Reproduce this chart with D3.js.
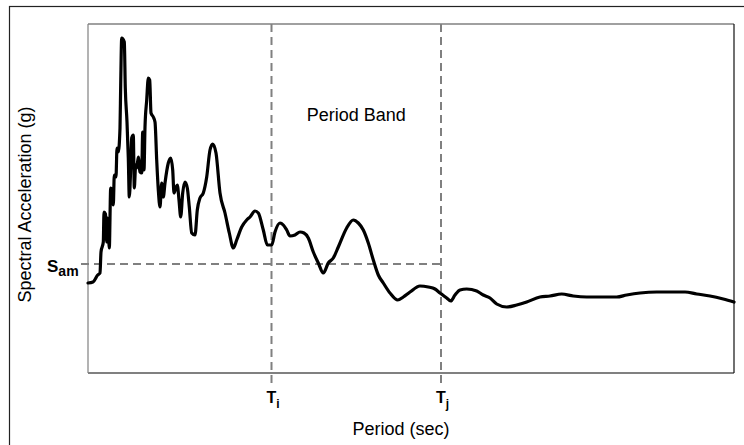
<!DOCTYPE html>
<html>
<head>
<meta charset="utf-8">
<script src="https://cdn.jsdelivr.net/npm/d3@7"></script>
<style>
  body { margin: 0; background: #fff; }
  text { font-family: "Liberation Sans", Arial, sans-serif; fill: #000; }
</style>
</head>
<body>
<div class="chart"></div>
<script>
var svgWidth = 744;
var svgHeight = 445;

// plot area inside the svg
var margin = { top: 24, right: 10, bottom: 72, left: 88 };
var width = svgWidth - margin.left - margin.right;
var height = svgHeight - margin.top - margin.bottom;

// response spectrum (period in sec, Sa in g)
var periods = [0.00, 0.05, 0.097, 0.12, 0.13, 0.153, 0.16, 0.175, 0.187, 0.197,
  0.213, 0.227, 0.243, 0.253, 0.263, 0.28, 0.29, 0.303, 0.32, 0.327,
  0.337, 0.363, 0.373, 0.39, 0.403, 0.413, 0.427, 0.437, 0.453, 0.463,
  0.477, 0.487, 0.503, 0.52, 0.537, 0.547, 0.56, 0.57, 0.587, 0.603,
  0.617, 0.63, 0.653, 0.67, 0.687, 0.703, 0.72, 0.737, 0.753, 0.77,
  0.803, 0.827, 0.847, 0.86, 0.88, 0.893, 0.91, 0.927, 0.947, 0.97,
  0.993, 1.013, 1.037, 1.07, 1.093, 1.12, 1.153, 1.187, 1.22, 1.247,
  1.28, 1.32, 1.37, 1.413, 1.453, 1.487, 1.537, 1.587, 1.62, 1.67,
  1.703, 1.753, 1.793, 1.837, 1.87, 1.92, 1.953, 1.987, 2.02, 2.07,
  2.12, 2.16, 2.203, 2.253, 2.303, 2.353, 2.403, 2.453, 2.503, 2.587,
  2.653, 2.703, 2.753, 2.803, 2.853, 2.903, 2.953, 3.02, 3.097, 3.153,
  3.22, 3.32, 3.403, 3.47, 3.52, 3.587, 3.627, 3.67, 3.72, 3.787,
  3.887, 3.953, 4.02, 4.087, 4.187, 4.287, 4.387, 4.52, 4.62, 4.737,
  4.853, 4.987, 5.12, 5.287, 5.387, 5.52, 5.687, 5.853, 5.97, 6.087,
  6.22, 6.353, 6.46];

var sa = [0.45, 0.455, 0.49, 0.50, 0.605, 0.655, 0.805, 0.795, 0.655, 0.775,
  0.625, 0.925, 0.915, 0.84, 0.99, 0.98, 1.125, 1.105, 1.225, 1.44,
  1.675, 1.655, 1.425, 1.255, 1.075, 0.88, 1.025, 1.175, 1.19, 0.925,
  1.04, 1.025, 1.08, 1.005, 1.0, 1.205, 1.015, 1.23, 1.365, 1.475,
  1.465, 1.3, 1.28, 1.255, 1.065, 0.915, 0.83, 0.95, 0.88, 0.95,
  1.05, 1.075, 1.015, 0.9, 0.93, 0.94, 0.865, 0.78, 0.9, 0.955,
  0.925, 0.83, 0.70, 0.69, 0.815, 0.875, 0.9, 0.98, 1.115, 1.145,
  1.1, 0.9, 0.8, 0.7, 0.625, 0.665, 0.73, 0.765, 0.78, 0.81,
  0.8, 0.715, 0.64, 0.64, 0.705, 0.75, 0.74, 0.715, 0.685, 0.69,
  0.705, 0.7, 0.675, 0.605, 0.55, 0.5, 0.55, 0.575, 0.63, 0.725,
  0.765, 0.75, 0.715, 0.65, 0.565, 0.49, 0.45, 0.4, 0.365, 0.38,
  0.405, 0.435, 0.43, 0.42, 0.4, 0.375, 0.36, 0.39, 0.415, 0.42,
  0.41, 0.39, 0.375, 0.345, 0.33, 0.34, 0.355, 0.38, 0.385, 0.395,
  0.385, 0.38, 0.38, 0.38, 0.39, 0.4, 0.405, 0.405, 0.405, 0.395,
  0.385, 0.37, 0.355];

// period band limits and mean spectral acceleration
var tI = 1.835;
var tJ = 3.53;
var sAm = 0.545;

var xDomain = [0, 6.46];
var yDomain = [0, 1.745];

var spectrum = periods.map(function(p, i) { return { period: p, sa: sa[i] }; });

var svg = d3.select(".chart")
  .append("svg")
  .attr("width", svgWidth)
  .attr("height", svgHeight);

// outer frame (runs off the right and bottom edge)
svg.append("rect")
  .attr("x", 9.5)
  .attr("y", 6.5)
  .attr("width", 800)
  .attr("height", 500)
  .attr("fill", "none")
  .attr("stroke", "#222")
  .attr("stroke-width", 1.2);

var chart = svg.append("g")
  .attr("transform", "translate(" + margin.left + "," + margin.top + ")");

var xScale = d3.scaleLinear().domain(xDomain).range([0, width]);
var yScale = d3.scaleLinear().domain(yDomain).range([height, 0]);

// plot frame
chart.append("line")
  .attr("x1", 0).attr("x2", width).attr("y1", 0).attr("y2", 0)
  .attr("stroke", "#808080").attr("stroke-width", 1.5);
chart.append("line")
  .attr("x1", 0).attr("x2", 0).attr("y1", 0).attr("y2", height)
  .attr("stroke", "#808080").attr("stroke-width", 1.2);
chart.append("line")
  .attr("x1", 0).attr("x2", width).attr("y1", height).attr("y2", height)
  .attr("stroke", "#808080").attr("stroke-width", 2);
chart.append("line")
  .attr("x1", width).attr("x2", width).attr("y1", 0).attr("y2", height)
  .attr("stroke", "#111").attr("stroke-width", 1.2);

// dashed guides
[tI, tJ].forEach(function(t) {
  chart.append("line")
    .attr("x1", xScale(t)).attr("x2", xScale(t))
    .attr("y1", 0).attr("y2", height + 10)
    .attr("stroke", "#808080")
    .attr("stroke-width", 2)
    .attr("stroke-dasharray", "8,5");
});

chart.append("line")
  .attr("x1", -7).attr("x2", xScale(tJ))
  .attr("y1", yScale(sAm)).attr("y2", yScale(sAm))
  .attr("stroke", "#808080")
  .attr("stroke-width", 2)
  .attr("stroke-dasharray", "8,5");

// the spectrum
var line = d3.line()
  .curve(d3.curveMonotoneX)
  .x(function(d) { return xScale(d.period); })
  .y(function(d) { return yScale(d.sa); });

chart.append("path")
  .datum(spectrum)
  .attr("d", line)
  .attr("fill", "none")
  .attr("stroke", "#000")
  .attr("stroke-width", 3.2)
  .attr("stroke-linejoin", "round")
  .attr("stroke-linecap", "round");

// labels
chart.append("text")
  .attr("x", (xScale(tI) + xScale(tJ)) / 2)
  .attr("y", 97)
  .attr("text-anchor", "middle")
  .style("font-size", "18px")
  .text("Period Band");

var sLabel = chart.append("text")
  .attr("x", -41)
  .attr("y", yScale(sAm) + 8)
  .style("font-size", "17px")
  .style("font-weight", "bold");
sLabel.append("tspan").text("S");
sLabel.append("tspan")
  .attr("dy", 4)
  .style("font-size", "14px")
  .text("am");

[[tI, "i"], [tJ, "j"]].forEach(function(t) {
  var lbl = chart.append("text")
    .attr("x", xScale(t[0]) - 5)
    .attr("y", height + 30)
    .style("font-size", "16px")
    .style("font-weight", "bold");
  lbl.append("tspan").text("T");
  lbl.append("tspan")
    .attr("dy", 5)
    .style("font-size", "12px")
    .text(t[1]);
});

chart.append("text")
  .attr("transform", "translate(" + (width / 2 - 10) + " ," + (height + 62) + ")")
  .attr("text-anchor", "middle")
  .style("font-size", "18px")
  .text("Period (sec)");

chart.append("text")
  .attr("transform", "rotate(-90)")
  .attr("x", -(height / 2 + 6))
  .attr("y", -57)
  .attr("text-anchor", "middle")
  .style("font-size", "18px")
  .text("Spectral Acceleration (g)");
</script>
</body>
</html>
